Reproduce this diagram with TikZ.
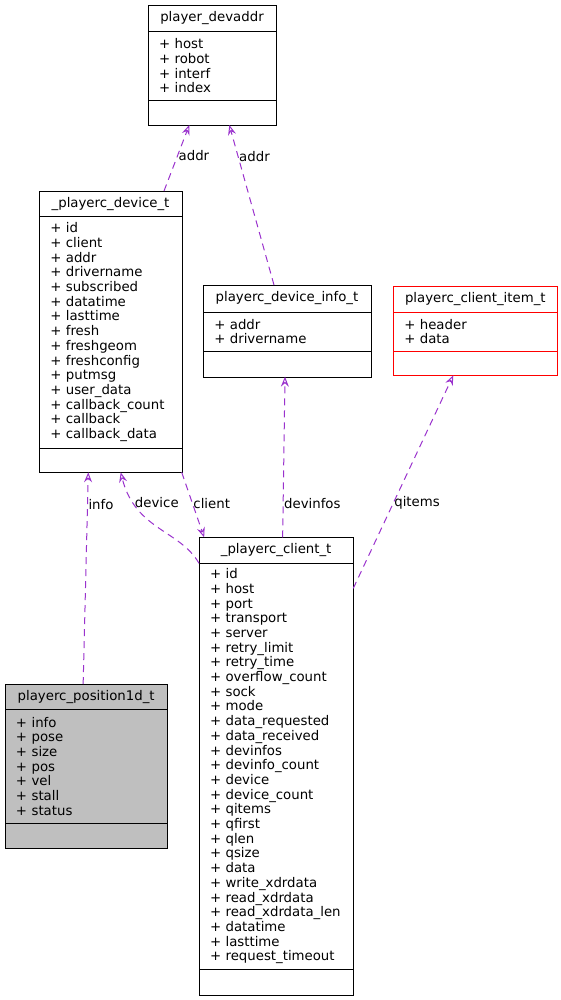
\documentclass[tikz,border=0pt]{standalone}
\usepackage{fontspec}
\setmainfont{DejaVu Sans}
\usetikzlibrary{positioning, arrows.meta}
\definecolor{memberedge}{HTML}{9A32CD}
\definecolor{rootfill}{HTML}{BFBFBF}
\definecolor{flagred}{HTML}{FF0000}
\tikzset{x=1pt, y=-1pt, line width=1pt,
every node/.style={font=\fontsize{13.3}{14.7}\selectfont, outer sep=0pt},
cname/.style={draw, inner sep=0pt, align=center, minimum width=#1},
cattr/.style={draw, inner xsep=11pt, inner ysep=0pt, align=left, text width=#1},
cops/.style={draw, inner sep=0pt, minimum width=#1},
member/.style={-{Stealth[open, length=10pt, width=8pt, inset=3.5pt]}, draw=memberedge, dash pattern=on 7pt off 5pt, line width=1pt},
elabel/.style={anchor=west, inner sep=1pt, text=black},
}

\begin{document}
\begin{tikzpicture}
            \useasboundingbox (0,0) rectangle (561,1000);

            % player_devaddr
            \node[cname=128pt, minimum height=26.7pt, anchor=north west] (devaddr) at (148,5) {player\_devaddr};
            \node[cattr=106pt, minimum height=68.3pt, below=0pt of devaddr] (devaddr-a) {+ host\\+ robot\\+ interf\\+ index};
            \node[cops=128pt, minimum height=25pt, below=0pt of devaddr-a] (devaddr-o) {};

            % _playerc_device_t
            \node[cname=142.4pt, minimum height=25.7pt, anchor=north west] (devt) at (39.3,191) {\_playerc\_device\_t};
            \node[cattr=120.4pt, minimum height=231pt, below=0pt of devt] (devt-a) {+ id\\+ client\\+ addr\\+ drivername\\+ subscribed\\+ datatime\\+ lasttime\\+ fresh\\+ freshgeom\\+ freshconfig\\+ putmsg\\+ user\_data\\+ callback\_count\\+ callback\\+ callback\_data};
            \node[cops=142.4pt, minimum height=24.6pt, below=0pt of devt-a] (devt-o) {};

            % playerc_device_info_t
            \node[cname=167.4pt, minimum height=27pt, anchor=north west] (info) at (203.3,285) {playerc\_device\_info\_t};
            \node[cattr=145.4pt, minimum height=39pt, below=0pt of info] (info-a) {+ addr\\+ drivername};
            \node[cops=167.4pt, minimum height=25.7pt, below=0pt of info-a] (info-o) {};

            % playerc_client_item_t
            \node[cname=164pt, minimum height=26.3pt, anchor=north west, draw=flagred] (item) at (393.3,285.7) {playerc\_client\_item\_t};
            \node[cattr=142pt, minimum height=39pt, below=0pt of item, draw=flagred] (item-a) {+ header\\+ data};
            \node[cops=164pt, minimum height=24.3pt, below=0pt of item-a, draw=flagred] (item-o) {};

            % playerc_position1d_t
            \node[cname=162.3pt, minimum height=25.3pt, anchor=north west, fill=rootfill] (pos) at (5,684) {playerc\_position1d\_t};
            \node[cattr=140.3pt, minimum height=114pt, below=0pt of pos, fill=rootfill] (pos-a) {+ info\\+ pose\\+ size\\+ pos\\+ vel\\+ stall\\+ status};
            \node[cops=162.3pt, minimum height=25pt, below=0pt of pos-a, fill=rootfill] (pos-o) {};

            % _playerc_client_t
            \node[cname=154.3pt, minimum height=26pt, anchor=north west] (client) at (199,537.3) {\_playerc\_client\_t};
            \node[cattr=132.3pt, minimum height=406pt, below=0pt of client] (client-a) {+ id\\+ host\\+ port\\+ transport\\+ server\\+ retry\_limit\\+ retry\_time\\+ overflow\_count\\+ sock\\+ mode\\+ data\_requested\\+ data\_received\\+ devinfos\\+ devinfo\_count\\+ device\\+ device\_count\\+ qitems\\+ qfirst\\+ qlen\\+ qsize\\+ data\\+ write\_xdrdata\\+ read\_xdrdata\\+ read\_xdrdata\_len\\+ datatime\\+ lasttime\\+ request\_timeout};
            \node[cops=154.3pt, minimum height=25.7pt, below=0pt of client-a] (client-o) {};

            \draw ([xshift=53.5pt]devt.north) edge[member] node[elabel, pos=0.54] {addr} ([xshift=-22.7pt]devaddr-o.south)
                  ([xshift=-13pt]info.north) edge[member] node[elabel, pos=0.8] {addr} ([xshift=17.3pt]devaddr-o.south)
                  ([xshift=-3pt]pos.north) edge[member] node[elabel, pos=0.85] {info} ([xshift=-22.2pt]devt-o.south)
                  (devt-o.south east) edge[member] node[elabel, pos=0.48] {client} ([xshift=-72pt]client.north)
                  ([xshift=6.5pt]client.north) edge[member] node[elabel, pos=0.21] {devinfos} ([xshift=-2pt]info-o.south)
                  ([yshift=-25pt]client-a.north east) edge[member] node[elabel, pos=0.4] {qitems} ([xshift=-22pt]item-o.south);
            \draw[member] (client-a.north west) .. controls (180,530) and (135,530) .. node[elabel, pos=0.78] {device} ([xshift=10.2pt]devt-o.south);
        \end{tikzpicture}
\end{document}
